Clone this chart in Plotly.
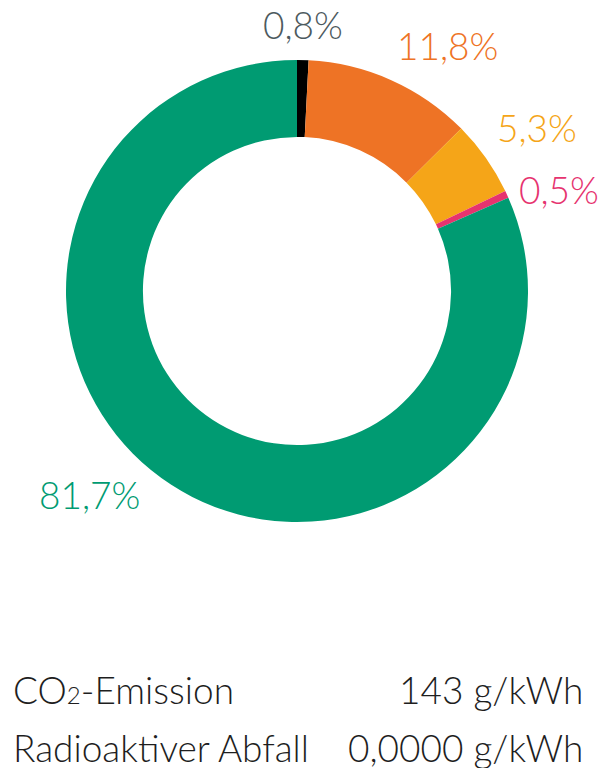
import math
import plotly.graph_objects as go

labels = ["Sonstige", "Erdgas", "Kohle", "Sonstige fossile", "Erneuerbare"]
values = [0.8, 11.8, 5.3, 0.5, 81.7]
text_labels = ["0,8%", "11,8%", "5,3%", "0,5%", "81,7%"]
colors = ["#000000", "#EE7325", "#F5A518", "#E6336F", "#009B72"]
label_colors = ["#4D5A5E", "#EE7325", "#F5A518", "#E6336F", "#009B72"]

info_names = ["CO<span style='font-size:24px'>2</span>-Emission", "Radioaktiver Abfall"]
info_values = ["143 g/kWh", "0,0000 g/kWh"]

FONT = "Lato"
W, H = 598, 768
CX, CY, R = 297, 291, 231  # pie centre and outer radius in pixels

fig = go.Figure()
fig.add_trace(go.Pie(
    labels=labels,
    values=values,
    textinfo="none",
    sort=False,
    direction="clockwise",
    rotation=0,
    hole=0.667,
    marker=dict(colors=colors, line=dict(width=0)),
    showlegend=False,
    hoverinfo="label+percent",
    domain=dict(x=[(CX - R) / W, (CX + R) / W], y=[1 - (CY + R) / H, 1 - (CY - R) / H]),
))

# outside labels, positioned from the slice mid-angles
total = sum(values)
cum = 0.0
for val, txt, col in zip(values, text_labels, label_colors):
    mid = (cum + val / 2) / total * 2 * math.pi
    cum += val
    s, c = math.sin(mid), math.cos(mid)
    rl = R + 12
    px = CX + rl * s
    py = CY - rl * c
    xa = "left" if s > 0.3 else ("right" if s < -0.3 else "center")
    ya = "bottom" if c > 0.45 else ("top" if c < -0.45 else "middle")
    if c < -0.45:
        # lower labels sit higher and further out, beside the ring
        py -= 0.1 * R
        px += 0.1 * R * (1 if s > 0 else -1)
    fig.add_annotation(text=txt, x=px / W, y=1 - py / H, xref="paper", yref="paper",
                       xanchor=xa, yanchor=ya, showarrow=False, borderpad=0,
                       font=dict(family=FONT, size=37, color=col, weight=300))

for i, (n, v) in enumerate(zip(info_names, info_values)):
    y = 1 - (689 + 58 * i) / H
    fig.add_annotation(text=n, x=11 / W, y=y, xref="paper", yref="paper",
                       xanchor="left", yanchor="middle", showarrow=False,
                       font=dict(family=FONT, size=37, color="#1E1E1E", weight=300))
    fig.add_annotation(text=v, x=585 / W, y=y, xref="paper", yref="paper",
                       xanchor="right", yanchor="middle", showarrow=False,
                       font=dict(family=FONT, size=37, color="#1E1E1E", weight=300))

fig.update_layout(
    width=W, height=H,
    margin=dict(l=0, r=0, t=0, b=0),
    paper_bgcolor="white", plot_bgcolor="white",
)

fig.write_html("out.html", config={"displayModeBar": False},
               post_script="document.body.style.margin='0';document.body.style.overflow='hidden';")
